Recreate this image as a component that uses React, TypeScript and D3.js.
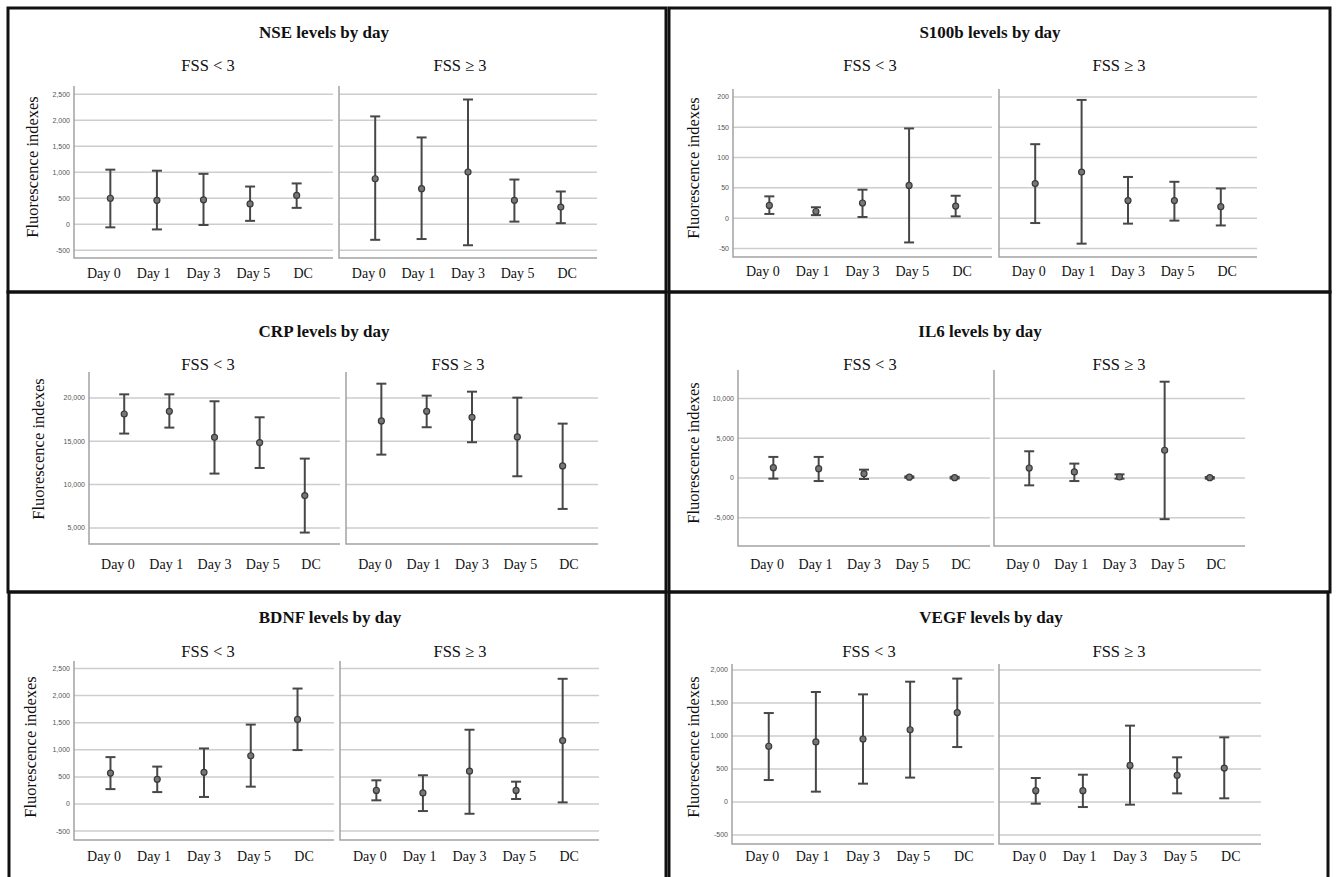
import * as d3 from 'd3';

const days = ['Day 0', 'Day 1', 'Day 3', 'Day 5', 'DC'];
const groupLabels = ['FSS < 3', 'FSS ≥ 3'];
const yTitle = 'Fluorescence indexes';

// NSE
const nseTicks = [-500, 0, 500, 1000, 1500, 2000, 2500];
const nseLowMean = [500, 460, 470, 390, 555];
const nseLowLower = [-60, -100, -15, 65, 315];
const nseLowUpper = [1050, 1030, 970, 725, 785];
const nseHighMean = [875, 685, 1005, 460, 330];
const nseHighLower = [-300, -285, -405, 50, 20];
const nseHighUpper = [2075, 1670, 2400, 860, 630];

// S100b
const s100Ticks = [-50, 0, 50, 100, 150, 200];
const s100LowMean = [21, 11, 25, 54, 20];
const s100LowLower = [7, 5, 2, -40, 3];
const s100LowUpper = [36, 18, 47, 148, 37];
const s100HighMean = [57, 76, 29, 29, 19];
const s100HighLower = [-8, -42, -9, -4, -12];
const s100HighUpper = [122, 195, 68, 60, 49];

// CRP
const crpTicks = [5000, 10000, 15000, 20000];
const crpLowMean = [18150, 18460, 15460, 14850, 8730];
const crpLowLower = [15890, 16580, 11270, 11920, 4460];
const crpLowUpper = [20420, 20420, 19620, 17770, 13000];
const crpHighMean = [17350, 18460, 17770, 15500, 12150];
const crpHighLower = [13460, 16620, 14890, 10960, 7190];
const crpHighUpper = [21650, 20270, 20730, 20040, 17040];

// IL6
const il6Ticks = [-5000, 0, 5000, 10000];
const il6LowMean = [1300, 1180, 550, 110, 40];
const il6LowLower = [-80, -380, -120, 30, -60];
const il6LowUpper = [2650, 2650, 1050, 200, 150];
const il6HighMean = [1260, 760, 130, 3490, 40];
const il6HighLower = [-920, -380, -80, -5170, -80];
const il6HighUpper = [3360, 1810, 460, 12100, 130];

// BDNF
const bdnfTicks = [-500, 0, 500, 1000, 1500, 2000, 2500];
const bdnfLowMean = [570, 455, 585, 890, 1560];
const bdnfLowLower = [275, 220, 130, 320, 995];
const bdnfLowUpper = [865, 690, 1025, 1465, 2130];
const bdnfHighMean = [250, 205, 605, 250, 1170];
const bdnfHighLower = [68, -130, -180, 92, 30];
const bdnfHighUpper = [437, 530, 1370, 412, 2310];

// VEGF
const vegfTicks = [-500, 0, 500, 1000, 1500, 2000];
const vegfLowMean = [845, 910, 955, 1095, 1355];
const vegfLowLower = [333, 157, 278, 370, 833];
const vegfLowUpper = [1348, 1667, 1631, 1823, 1870];
const vegfHighMean = [172, 172, 555, 405, 515];
const vegfHighLower = [-25, -76, -40, 131, 56];
const vegfHighUpper = [364, 414, 1157, 677, 980];

const pack = (mean: number[], lo: number[], hi: number[]) =>
  days.map((d, i) => ({ day: d, mean: mean[i], lo: lo[i], hi: hi[i] }));

// layout of each screenshot panel
const panels = [
  {
    title: 'NSE levels by day', ticks: nseTicks, domain: [-650, 2660],
    low: pack(nseLowMean, nseLowLower, nseLowUpper), high: pack(nseHighMean, nseHighLower, nseHighUpper),
    lx: [74, 333], rx: [339, 597], yTop: 86, yBot: 258,
    tx: 324, ty: 38, sy: 71, s1: 208, s2: 460, labelY: 278, ytx: 32, yty: 167,
  },
  {
    title: 'S100b levels by day', ticks: s100Ticks, domain: [-64, 213],
    low: pack(s100LowMean, s100LowLower, s100LowUpper), high: pack(s100HighMean, s100HighLower, s100HighUpper),
    lx: [733, 992], rx: [999, 1257], yTop: 89, yBot: 257,
    tx: 990, ty: 38, sy: 71, s1: 870, s2: 1119, labelY: 276, ytx: 693, yty: 168,
  },
  {
    title: 'CRP levels by day', ticks: crpTicks, domain: [3140, 23000],
    low: pack(crpLowMean, crpLowLower, crpLowUpper), high: pack(crpHighMean, crpHighLower, crpHighUpper),
    lx: [89, 340], rx: [346, 598], yTop: 372, yBot: 544,
    tx: 324, ty: 337, sy: 370, s1: 208, s2: 458, labelY: 569, ytx: 38, yty: 449,
  },
  {
    title: 'IL6 levels by day', ticks: il6Ticks, domain: [-8540, 13570],
    low: pack(il6LowMean, il6LowLower, il6LowUpper), high: pack(il6HighMean, il6HighLower, il6HighUpper),
    lx: [738, 990], rx: [994, 1245], yTop: 370, yBot: 546,
    tx: 980, ty: 337, sy: 370, s1: 870, s2: 1119, labelY: 569, ytx: 693, yty: 453,
  },
  {
    title: 'BDNF levels by day', ticks: bdnfTicks, domain: [-664, 2638],
    low: pack(bdnfLowMean, bdnfLowLower, bdnfLowUpper), high: pack(bdnfHighMean, bdnfHighLower, bdnfHighUpper),
    lx: [74, 334], rx: [340, 599], yTop: 661, yBot: 840,
    tx: 330, ty: 623, sy: 657, s1: 208, s2: 460, labelY: 861, ytx: 30, yty: 747,
  },
  {
    title: 'VEGF levels by day', ticks: vegfTicks, domain: [-636, 2091],
    low: pack(vegfLowMean, vegfLowLower, vegfLowUpper), high: pack(vegfHighMean, vegfHighLower, vegfHighUpper),
    lx: [732, 994], rx: [999, 1261], yTop: 664, yBot: 844,
    tx: 991, ty: 623, sy: 657, s1: 869, s2: 1119, labelY: 861, ytx: 693, yty: 747,
  },
];

const frames = [
  [8, 8, 658, 284], [669, 8, 661, 284],
  [8, 292, 658, 300], [669, 292, 661, 300],
  [9, 592, 657, 300], [669, 592, 659, 300],
];

const fmt = (v: number) => d3.format(',')(v).replace('−', '-');
const serif = '"Liberation Serif", "Times New Roman", serif';

const Sub = ({ p, data, xr, showTicks }: any) => {
  const y = d3.scaleLinear().domain(p.domain).range([p.yBot, p.yTop]);
  const x = d3.scalePoint().domain(days).range(xr).padding(0.78);
  const xl = d3.scalePoint().domain(days).range(xr).padding(0.6);
  return (
    <g>
      {p.ticks.map((t: number) => (
        <line key={t} x1={xr[0]} x2={xr[1]} y1={y(t)} y2={y(t)} stroke="#cdcdcd" strokeWidth={1.5} />
      ))}
      <path d={`M${xr[0]},${p.yTop}V${p.yBot}H${xr[1]}`} fill="none" stroke="#a3a3a3" strokeWidth={1.5} />
      {showTicks && p.ticks.map((t: number) => (
        <text key={t} x={xr[0] - 4} y={y(t)} dy="0.35em" textAnchor="end"
          fontFamily="Liberation Sans, Arial, sans-serif" fontSize={7} fill="#555">{fmt(t)}</text>
      ))}
      {data.map((d: any) => {
        const cx = x(d.day) as number;
        return (
          <g key={d.day} stroke="#474747" strokeWidth={2}>
            <line x1={cx} x2={cx} y1={y(d.hi)} y2={y(d.lo)} />
            <line x1={cx - 5} x2={cx + 5} y1={y(d.hi)} y2={y(d.hi)} />
            <line x1={cx - 5} x2={cx + 5} y1={y(d.lo)} y2={y(d.lo)} />
            <circle cx={cx} cy={y(d.mean)} r={3} fill="#777" stroke="#3a3a3a" strokeWidth={1.2} />
          </g>
        );
      })}
      {days.map((d) => (
        <text key={d} x={xl(d)} y={p.labelY} textAnchor="middle" fontFamily={serif} fontSize={14} fill="#111">{d}</text>
      ))}
    </g>
  );
};

export default function App() {
  return (
    <svg width={1336} height={877} style={{ position: 'absolute', left: 0, top: 0, background: '#fff' }}>
      <rect width={1336} height={877} fill="#fff" />
      {panels.map((p) => (
        <g key={p.title}>
          <text x={p.tx} y={p.ty} textAnchor="middle" fontFamily={serif} fontWeight="bold" fontSize={17} fill="#111">{p.title}</text>
          <text x={p.s1} y={p.sy} textAnchor="middle" fontFamily={serif} fontSize={16.5} fill="#111">{groupLabels[0]}</text>
          <text x={p.s2} y={p.sy} textAnchor="middle" fontFamily={serif} fontSize={16.5} fill="#111">{groupLabels[1]}</text>
          <text transform={`translate(${p.ytx},${p.yty}) rotate(-90)`} textAnchor="middle" dy="0.35em"
            fontFamily={serif} fontSize={16.5} fill="#111">{yTitle}</text>
          <Sub p={p} data={p.low} xr={p.lx} showTicks />
          <Sub p={p} data={p.high} xr={p.rx} showTicks={false} />
        </g>
      ))}
      {frames.map(([fx, fy, fw, fh], i) => (
        <rect key={i} x={fx} y={fy} width={fw} height={fh} fill="none" stroke="#111" strokeWidth={3} />
      ))}
    </svg>
  );
}
